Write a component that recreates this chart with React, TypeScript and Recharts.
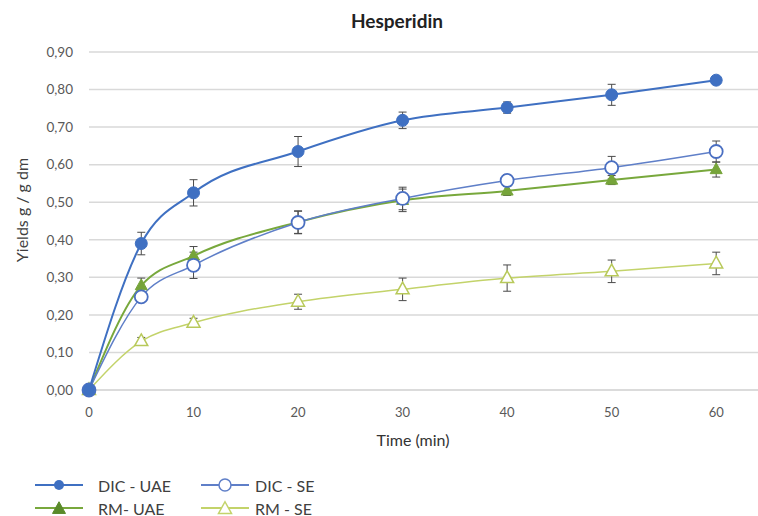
import { LineChart, Line, XAxis, YAxis, CartesianGrid, ErrorBar } from 'recharts';

const times = [0, 5, 10, 20, 30, 40, 50, 60];

const dicUae = [0, 0.39, 0.525, 0.635, 0.718, 0.752, 0.786, 0.825];
const dicSe = [0, 0.248, 0.332, 0.446, 0.51, 0.558, 0.592, 0.635];
const rmUae = [0, 0.278, 0.357, 0.447, 0.505, 0.53, 0.559, 0.587];
const rmSe = [0, 0.13, 0.179, 0.235, 0.268, 0.298, 0.316, 0.337];

const dicUaeErr = [0, 0.03, 0.035, 0.04, 0.022, 0.015, 0.028, 0.008];
const dicSeErr = [0, 0.012, 0.035, 0.03, 0.03, 0.015, 0.03, 0.028];
const rmUaeErr = [0, 0.02, 0.025, 0.03, 0.03, 0.012, 0.012, 0.02];
const rmSeErr = [0, 0.01, 0.012, 0.02, 0.03, 0.035, 0.03, 0.03];

const xTicks = [0, 10, 20, 30, 40, 50, 60];
const yTicks = [0, 0.1, 0.2, 0.3, 0.4, 0.5, 0.6, 0.7, 0.8, 0.9];

const colors = {
  dicUae: '#3f70c2',
  dicSe: '#5f7fc8',
  rmUae: '#78a83c',
  rmSe: '#c3d36a',
  grid: '#d9d9d9',
  text: '#595959',
  err: '#4a4a4a',
};

const FONT = 'Lato, "Open Sans", sans-serif';

const chartData = times.map((t, i) => ({
  t,
  dicUae: dicUae[i],
  dicSe: dicSe[i],
  rmUae: rmUae[i],
  rmSe: rmSe[i],
  dicUaeErr: dicUaeErr[i],
  dicSeErr: dicSeErr[i],
  rmUaeErr: rmUaeErr[i],
  rmSeErr: rmSeErr[i],
}));

const fmt = (v: number) => v.toFixed(2).replace('.', ',');

function triPath(cx: number, cy: number, s: number) {
  const h = s * 0.9;
  return `M${cx},${cy - h * 0.62} L${cx + s / 2},${cy + h * 0.38} L${cx - s / 2},${cy + h * 0.38} Z`;
}

const circleDot = (fill: string, stroke: string, r: number, sw: number) => (p: any) => (
  <circle key={`c${p.index}`} cx={p.cx} cy={p.cy} r={r} fill={fill} stroke={stroke} strokeWidth={sw} />
);

const triDot = (fill: string, stroke: string, s: number, sw: number) => (p: any) => (
  <path key={`t${p.index}`} d={triPath(p.cx, p.cy, s)} fill={fill} stroke={stroke} strokeWidth={sw} />
);

function LegendIcon({ color, marker }: { color: string; marker: 'dot' | 'ring' | 'tri' | 'otri' }) {
  return (
    <svg width={48} height={16} style={{ display: 'block' }}>
      <line x1={0} y1={8} x2={48} y2={8} stroke={color} strokeWidth={2} />
      {marker === 'dot' && <circle cx={24} cy={8} r={5} fill={color} />}
      {marker === 'ring' && <circle cx={24} cy={8} r={6} fill="#fff" stroke={color} strokeWidth={1.5} />}
      {marker === 'tri' && <path d={triPath(24, 9, 13)} fill="#5a8a2a" stroke="#5a8a2a" />}
      {marker === 'otri' && <path d={triPath(24, 9, 13)} fill="#fff" stroke={color} strokeWidth={1.5} />}
    </svg>
  );
}

const legendItems = [
  { label: 'DIC - UAE', color: colors.dicUae, marker: 'dot' as const, x: 35, y: 485, tx: 98 },
  { label: 'DIC - SE', color: colors.dicSe, marker: 'ring' as const, x: 201, y: 485, tx: 255 },
  { label: 'RM- UAE', color: colors.rmUae, marker: 'tri' as const, x: 35, y: 508, tx: 98 },
  { label: 'RM - SE', color: colors.rmSe, marker: 'otri' as const, x: 201, y: 508, tx: 255 },
];

export default function App() {
  return (
    <div style={{ position: 'absolute', left: 0, top: 0, width: 758, height: 516, background: '#fff', fontFamily: FONT, overflow: 'hidden' }}>
      <div style={{ position: 'absolute', left: 0, width: 758, top: 9, textAlign: 'center', paddingLeft: 36, boxSizing: 'border-box', fontWeight: 700, fontSize: 19, color: '#222' }}>
        Hesperidin
      </div>
      <LineChart width={758} height={516} data={chartData} margin={{ top: 52, right: 0, bottom: 96, left: 0 }}>
        <CartesianGrid vertical={false} stroke={colors.grid} strokeWidth={1.5} />
        <XAxis
          type="number"
          dataKey="t"
          domain={[0, 64]}
          ticks={xTicks}
          tickLine={false}
          axisLine={{ stroke: colors.grid, strokeWidth: 1.5 }}
          tickMargin={12}
          tick={{ fill: colors.text, fontSize: 13, fontFamily: FONT }}
        />
        <YAxis
          type="number"
          domain={[0, 0.9]}
          ticks={yTicks}
          width={89}
          tickLine={false}
          axisLine={false}
          tickMargin={10}
          tickFormatter={fmt}
          tick={{ fill: colors.text, fontSize: 13.5, fontFamily: FONT }}
        />
        <Line
          type="monotone"
          dataKey="rmSe"
          stroke={colors.rmSe}
          strokeWidth={1.5}
          dot={triDot('#fff', '#b8c95a', 13, 1.5)}
          isAnimationActive={false}
        >
          <ErrorBar dataKey="rmSeErr" width={4} stroke={colors.err} strokeWidth={1} direction="y" />
        </Line>
        <Line
          type="monotone"
          dataKey="rmUae"
          stroke={colors.rmUae}
          strokeWidth={2}
          dot={triDot('#76a43a', '#76a43a', 12, 1)}
          isAnimationActive={false}
        >
          <ErrorBar dataKey="rmUaeErr" width={4} stroke={colors.err} strokeWidth={1} direction="y" />
        </Line>
        <Line
          type="monotone"
          dataKey="dicSe"
          stroke={colors.dicSe}
          strokeWidth={1.5}
          dot={circleDot('#fff', '#4a6fc2', 6.5, 1.8)}
          isAnimationActive={false}
        >
          <ErrorBar dataKey="dicSeErr" width={4} stroke={colors.err} strokeWidth={1} direction="y" />
        </Line>
        <Line
          type="monotone"
          dataKey="dicUae"
          stroke={colors.dicUae}
          strokeWidth={2}
          dot={circleDot('#3f70c2', '#3f70c2', 6, 1)}
          isAnimationActive={false}
        >
          <ErrorBar dataKey="dicUaeErr" width={4} stroke={colors.err} strokeWidth={1} direction="y" />
        </Line>
      </LineChart>
      <div
        style={{
          position: 'absolute',
          left: 21,
          top: 210,
          transform: 'translate(-50%, -50%) rotate(-90deg)',
          whiteSpace: 'nowrap',
          fontSize: 16,
          color: '#404040',
        }}
      >
        Yields g / g dm
      </div>
      <div style={{ position: 'absolute', left: 413, top: 439, transform: 'translate(-50%, -50%)', whiteSpace: 'nowrap', fontSize: 16, color: '#333' }}>
        Time (min)
      </div>
      {legendItems.map((it) => (
        <div key={it.label}>
          <div style={{ position: 'absolute', left: it.x, top: it.y - 8 }}>
            <LegendIcon color={it.color} marker={it.marker} />
          </div>
          <div style={{ position: 'absolute', left: it.tx, top: it.y, transform: 'translateY(-50%)', fontSize: 16, color: '#404040', whiteSpace: 'nowrap' }}>
            {it.label}
          </div>
        </div>
      ))}
    </div>
  );
}
